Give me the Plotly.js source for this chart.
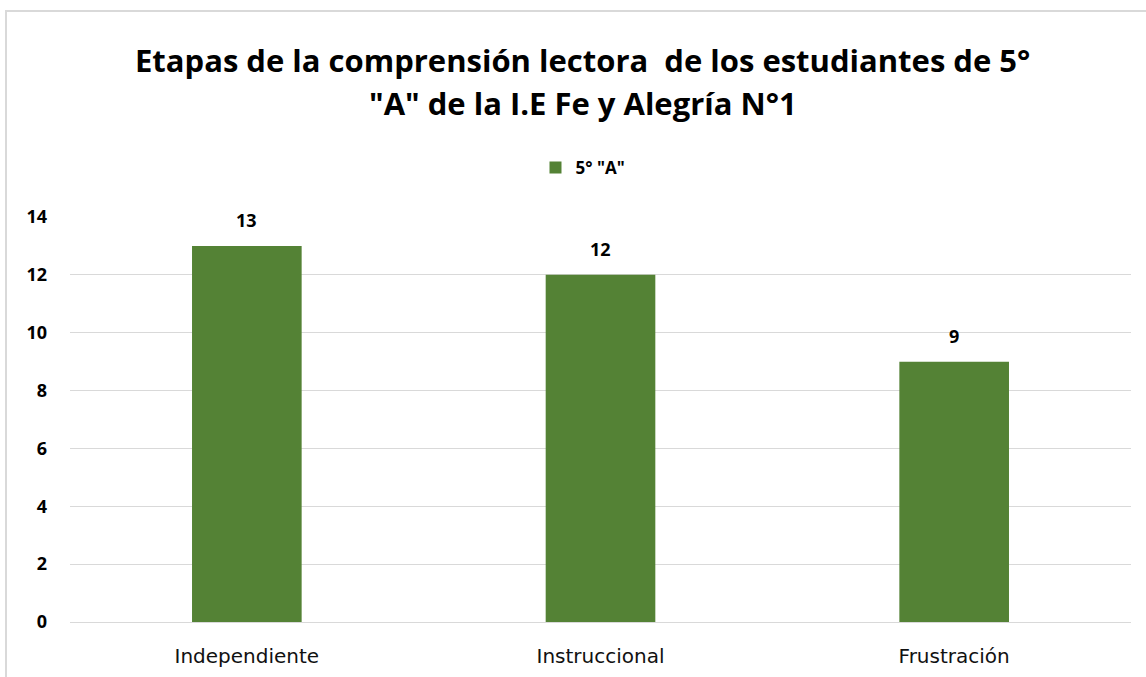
<!DOCTYPE html>
<html><head><meta charset="utf-8">
<script src="https://cdn.plot.ly/plotly-3.0.1.min.js"></script>
<style>
html,body{margin:0;padding:0;background:#fff;}
#chart{width:1146px;height:677px;}
#frame{position:absolute;left:5px;top:10px;width:2000px;height:2000px;border-left:2px solid #d9d9d9;border-top:2px solid #d9d9d9;pointer-events:none;}
</style></head>
<body>
<div id="chart"></div>
<div id="frame"></div>
<script>
const categories = ["Independiente", "Instruccional", "Frustración"];
const values = [13, 12, 9];
const seriesName = '5° "A"';
const yTicks = [0, 2, 4, 6, 8, 10, 12, 14];
const titleLines = ['Etapas de la comprensión lectora  de los estudiantes de 5°', '"A" de la I.E Fe y Alegría N°1'];

const font = "Open Sans, sans-serif";
const trace = {
  type: 'bar',
  x: categories,
  y: values,
  name: seriesName,
  marker: {color: '#548235'},
  width: 0.31,
  hoverinfo: 'skip'
};
const annotations = [];
titleLines.forEach((t, i) => {
  annotations.push({text: t, xref: 'paper', yref: 'paper', x: 0.4835, y: [1.3877, 1.2815][i],
    xanchor: 'center', yanchor: 'middle', showarrow: false,
    font: {family: font, size: 31, color: '#000', weight: 'bold'}});
});
categories.forEach((c, i) => {
  annotations.push({text: String(values[i]), x: c, y: values[i], xref: 'x', yref: 'y',
    yanchor: 'middle', yshift: 26, showarrow: false,
    font: {family: font, size: 18, color: '#000', weight: 'bold'}});
});
const layout = {
  width: 1146, height: 677,
  margin: {l: 70, r: 15, t: 217, b: 55},
  paper_bgcolor: '#fff', plot_bgcolor: '#fff',
  showlegend: true,
  legend: {orientation: 'h', x: 0.4835, xanchor: 'center', y: 1.121, yanchor: 'middle',
           font: {family: font, size: 17, color: '#000', weight: 'bold'}},
  annotations: annotations,
  xaxis: {tickfont: {family: "DejaVu Sans, sans-serif", size: 20, color: '#111'}, showline: false, ticks: '',
          ticklabelstandoff: 20, fixedrange: true},
  yaxis: {range: [0, 14], tickvals: yTicks, ticktext: yTicks.map(String), showgrid: true, gridcolor: '#d9d9d9',
          gridwidth: 1, zeroline: true, zerolinecolor: '#d9d9d9', zerolinewidth: 1,
          tickfont: {family: font, size: 18, color: '#000', weight: 'bold'}, ticks: '', ticklen: 0,
          ticklabelstandoff: 22, fixedrange: true}
};
Plotly.newPlot('chart', [trace], layout, {displayModeBar: false, staticPlot: true});
</script>
</body></html>
